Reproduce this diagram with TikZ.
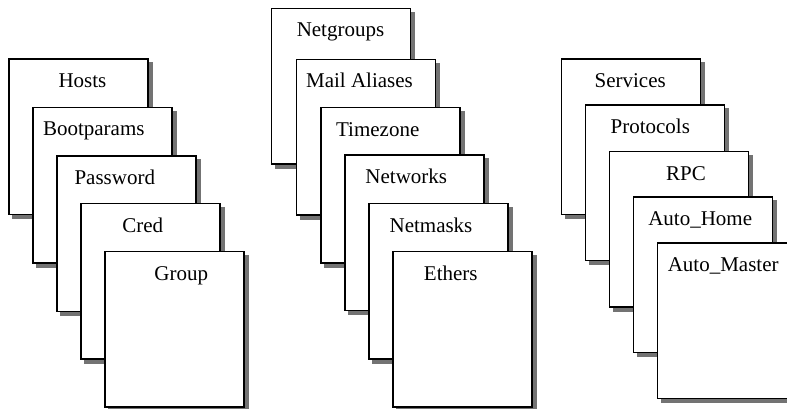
\documentclass[tikz,border=0pt]{standalone}
\usepackage{fontspec}
\setmainfont{Liberation Serif}
\begin{document}
\begin{tikzpicture}[x=1pt,y=-1pt,
  card/.style={draw=black,line width=1.6pt,fill=white,anchor=north west,
    inner sep=0pt,minimum width=139pt,minimum height=155.5pt},
  cardshadow/.style={fill=black!55},
  cardtext/.style={anchor=base,inner sep=0pt,font=\rmfamily\fontsize{21}{25}\selectfont}]
\newcommand\mycard[5]{%
  \fill[cardshadow] ({#2+4},{#3+4}) rectangle ++(140.6,157.1);
  \node[card] (#1) at (#2,#3) {};
  \node[cardtext] (#1t) at (#4,{#3+29.3}) {#5};
}
\useasboundingbox (0,0) rectangle (787,409);
% left stack
\mycard{c1}{8.3}{58.3}{82.5}{Hosts}
\mycard{c2}{32.3}{106.6}{93.8}{Bootparams}
\mycard{c3}{56.3}{155}{114.8}{Password}
\mycard{c4}{80.3}{202.7}{142.8}{Cred}
\mycard{c5}{104.3}{250.7}{181.3}{Group}
% middle stack
\mycard{m1}{270.7}{7.7}{340.5}{Netgroups}
\mycard{m2}{295.7}{58.7}{359.5}{Mail Aliases}
\mycard{m3}{320}{106.7}{377.7}{Timezone}
\mycard{m4}{344}{154.3}{406.3}{Networks}
\mycard{m5}{368.3}{202.7}{431}{Netmasks}
\mycard{m6}{392.3}{250.7}{450.8}{Ethers}
% right stack
\mycard{r1}{560.7}{58.3}{630.2}{Services}
\mycard{r2}{584.7}{104.3}{650.3}{Protocols}
\mycard{r3}{608.7}{150.7}{686}{RPC}
\mycard{r4}{632.7}{196}{700.2}{Auto\_Home}
\mycard{r5}{656.7}{242.3}{723.2}{Auto\_Master}
\end{tikzpicture}
\end{document}
